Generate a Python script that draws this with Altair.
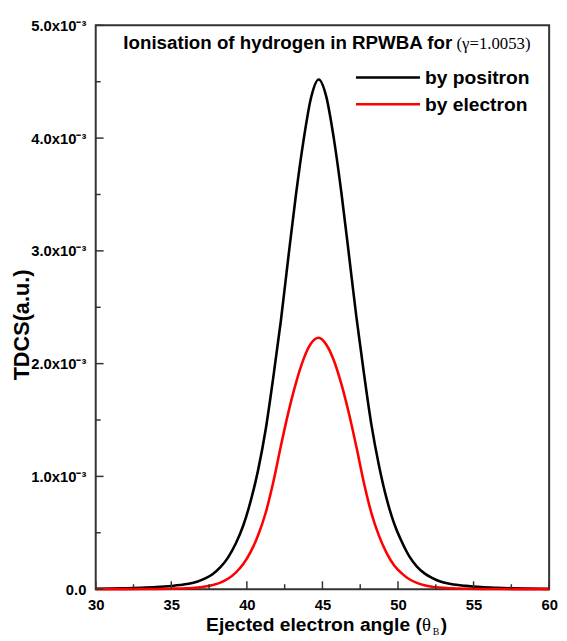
import altair as alt
import pandas as pd

# ---------------- data ----------------
angle = [30, 31, 32, 33, 34, 35, 36, 36.75, 37.25, 37.75, 38.25, 38.75, 39.25, 39.75,
         40.25, 40.75, 41.25, 41.75, 42.25, 42.75, 43.25, 43.75, 44.25, 44.75,
         45.25, 45.75, 46.25, 46.75, 47.25, 47.75, 48.25, 48.75, 49.25, 49.75,
         50.25, 50.75, 51.25, 51.75, 52.25, 52.75, 53.5, 54.5, 55.5, 56.5, 57.5, 58.5, 60]

# TDCS in units of 1e-3 a.u.
positron = [0.003, 0.005, 0.008, 0.012, 0.018, 0.028, 0.045, 0.068, 0.095, 0.135, 0.195, 0.28,
            0.40, 0.56, 0.78, 1.06, 1.42, 1.88, 2.38, 2.95, 3.50, 3.98, 4.36, 4.52,
            4.37, 4.00, 3.52, 2.97, 2.41, 1.91, 1.45, 1.09, 0.80, 0.58, 0.42, 0.29,
            0.20, 0.14, 0.10, 0.07, 0.046, 0.029, 0.018, 0.012, 0.008, 0.005, 0.0025]
electron = [0.0002, 0.0003, 0.0005, 0.001, 0.002, 0.004, 0.008, 0.015, 0.023, 0.036, 0.058, 0.092,
            0.145, 0.22, 0.33, 0.48, 0.68, 0.95, 1.27, 1.57, 1.83, 2.04, 2.18, 2.23,
            2.17, 2.03, 1.82, 1.56, 1.26, 0.94, 0.67, 0.47, 0.32, 0.21, 0.14, 0.088,
            0.056, 0.035, 0.022, 0.014, 0.008, 0.004, 0.002, 0.001, 0.0005, 0.0003, 0.0001]

series_names = ["by positron", "by electron"]
series_colors = ["#000000", "#ff0000"]

x_major = [30, 35, 40, 45, 50, 55, 60]
x_minor = [32.5, 37.5, 42.5, 47.5, 52.5, 57.5]
y_major = [0.0, 1.0e-3, 2.0e-3, 3.0e-3, 4.0e-3, 5.0e-3]
y_minor = [0.5e-3, 1.5e-3, 2.5e-3, 3.5e-3, 4.5e-3]

title_main = "Ionisation of hydrogen in RPWBA for"
title_param = "(γ=1.0053)"
x_title = "Ejected electron angle ("
y_title = "TDCS(a.u.)"

# ---------------- build ----------------
W, H = 460, 572
SANS = "Liberation Sans"
SERIF = "Liberation Serif"

rows = []
for a, p, e in zip(angle, positron, electron):
    rows.append({"angle": a, "tdcs": p * 1e-3, "series": series_names[0]})
    rows.append({"angle": a, "tdcs": e * 1e-3, "series": series_names[1]})
df = pd.DataFrame(rows)

x_scale = alt.Scale(domain=[30, 60], nice=False, zero=False)
y_scale = alt.Scale(domain=[0, 0.005], nice=False)

x_axis = alt.Axis(values=x_major, title=None, ticks=False, domain=False, grid=False,
                  labelFont=SANS, labelFontSize=15, labelFontWeight="bold", labelColor="black",
                  labelPadding=9, labelFlush=False)
y_axis = alt.Axis(values=y_major, title=None, ticks=False, domain=False, grid=False,
                  labelFont=SANS, labelFontSize=15, labelFontWeight="bold", labelColor="black",
                  labelPadding=10, labelFlush=False,
                  labelExpr="datum.value < 1e-9 ? '0.0' : format(datum.value*1000, '.1f') + 'x10⁻³'")

lines = alt.Chart(df).mark_line(strokeWidth=2.6, interpolate="monotone").encode(
    x=alt.X("angle:Q", scale=x_scale, axis=x_axis),
    y=alt.Y("tdcs:Q", scale=y_scale, axis=y_axis),
    color=alt.Color("series:N", scale=alt.Scale(domain=series_names, range=series_colors), legend=None),
)


def xticks(vals, length):
    return alt.Chart(pd.DataFrame({"angle": vals})).mark_rule(color="#333333", strokeWidth=1.5).encode(
        x=alt.X("angle:Q", scale=x_scale, axis=x_axis),
        y=alt.value(H), y2=alt.value(H - length))


def yticks(vals, length):
    return alt.Chart(pd.DataFrame({"tdcs": vals})).mark_rule(color="#333333", strokeWidth=1.5).encode(
        y=alt.Y("tdcs:Q", scale=y_scale, axis=y_axis),
        x=alt.value(0), x2=alt.value(length))


def label(text, x, y, size, font=SANS, weight="bold", align="left", baseline="alphabetic", angle=0):
    return alt.Chart(pd.DataFrame({"t": [text]})).mark_text(
        align=align, baseline=baseline, font=font, fontSize=size, fontWeight=weight,
        color="black", angle=angle).encode(x=alt.value(x), y=alt.value(y), text="t:N")


layers = [lines,
          xticks(x_major, 8), xticks(x_minor, 5),
          yticks(y_major, 8), yticks(y_minor, 5),
          label(title_main, 28, 24, 19),
          label(title_param, 366, 24, 17, font=SERIF, weight="normal", align="left"),
          label(x_title, 112, 614, 19.5),
          label("θ", 331, 614, 19, font=SERIF, weight="normal"),
          label("B", 342, 619, 10, font=SERIF, weight="normal"),
          label(")", 350, 614, 19.5),
          label(y_title, -75, 304, 22, align="center", baseline="middle", angle=270)]

for i, (name, col) in enumerate(zip(series_names, series_colors)):
    ly = 53 + 27 * i
    layers.append(alt.Chart(pd.DataFrame({"s": [name]})).mark_rule(color=col, strokeWidth=2.6).encode(
        x=alt.value(264), x2=alt.value(329), y=alt.value(ly)))
    layers.append(label(name, 334, ly + 7, 19.5))

chart = alt.layer(*layers).properties(
    width=W, height=H,
    autosize=alt.AutoSizeParams(type="none"),
    padding={"left": 89, "top": 13, "right": 10, "bottom": 48},
    background="white",
).configure_view(stroke="#333333", strokeWidth=2)

chart.save("out.html", embed_options={"renderer": "svg", "actions": False})
